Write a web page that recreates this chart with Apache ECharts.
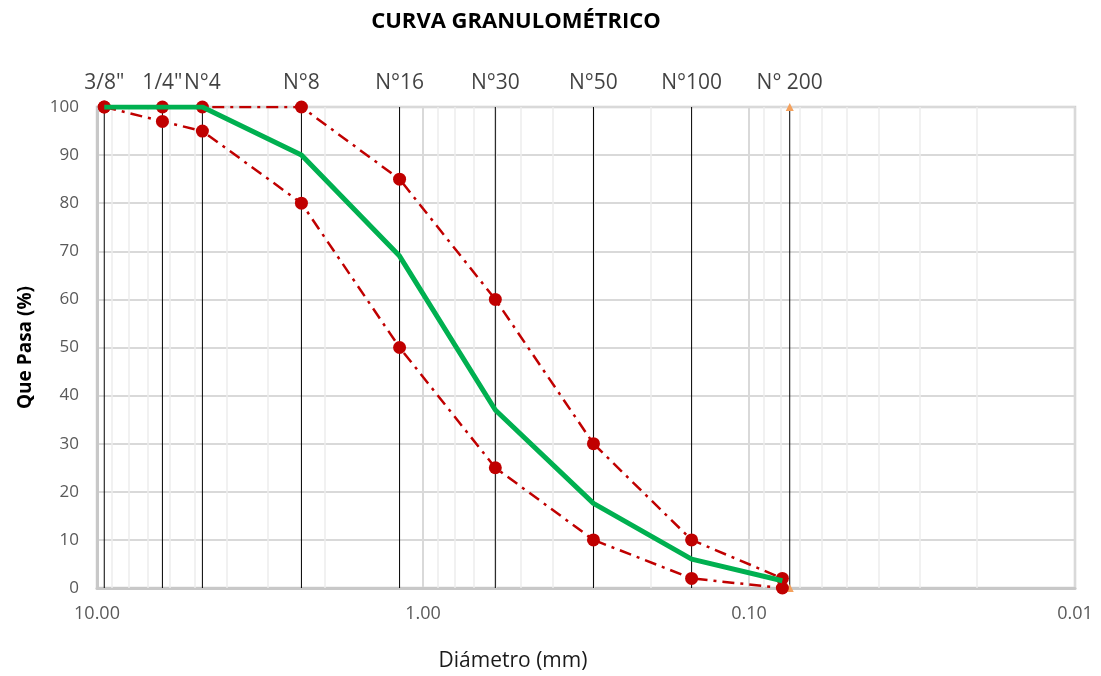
<!DOCTYPE html>
<html><head><meta charset="utf-8">
<script src="https://cdn.jsdelivr.net/npm/echarts@6/dist/echarts.min.js"></script>
<style>html,body{margin:0;padding:0;background:#fff}#c{width:1101px;height:676px}</style>
</head><body><div id="c"></div>
<script>
// Sieve (tamiz) names and openings, mm
const sieveNames = ['3/8"', '1/4"', 'N°4', 'N°8', 'N°16', 'N°30', 'N°50', 'N°100', 'N° 200'];
const sieveSizes = [9.5, 6.3, 4.75, 2.36, 1.18, 0.6, 0.3, 0.15, 0.075];
// Diameters at which the curves are plotted, mm
const curveSizes = [9.5, 6.3, 4.75, 2.36, 1.18, 0.6, 0.3, 0.15, 0.079];
// % passing
const pasaMuestra    = [100, 100, 100, 90, 69, 37, 17.6, 6, 1.5];
const limiteSuperior = [100, 100, 100, 100, 85, 60, 30, 10, 2];
const limiteInferior = [100, 97, 95, 80, 50, 25, 10, 2, 0];
const yTicks = [0, 10, 20, 30, 40, 50, 60, 70, 80, 90, 100];
const xMin = 0.01, xMax = 10;

const FONT = 'Open Sans';
const pairs = (xs, ys) => xs.map((x, i) => [x, ys[i]]);

// minor log gridlines (2..9 of each decade)
const minorLines = [];
[0.01, 0.1, 1].forEach(d => { for (let k = 2; k <= 9; k++) minorLines.push({ xAxis: +(d * k).toPrecision(3) }); });

const series = [];
// minor grid
series.push({
  type: 'line', data: [], silent: true, z: 0,
  markLine: { silent: true, symbol: 'none', label: { show: false }, animation: false,
    lineStyle: { color: '#ececec', width: 1.5, type: 'solid' }, data: minorLines }
});
// sieve vertical lines
sieveNames.forEach((n, i) => {
  const last = i === sieveNames.length - 1;
  series.push({
    type: 'line', name: n, data: [[sieveSizes[i], 0], [sieveSizes[i], yTicks[yTicks.length - 1]]],
    lineStyle: { color: '#000', width: 1 },
    showSymbol: last, symbol: 'triangle', symbolSize: 8,
    itemStyle: { color: '#f4a15d' }, z: 6, animation: false
  });
});
// sieve labels
series.push({
  type: 'scatter', symbolSize: 0, z: 7, animation: false,
  data: sieveNames.map((n, i) => ({ value: [sieveSizes[i], 100], name: n })),
  label: { show: true, position: 'top', distance: 13, formatter: p => p.name,
    fontFamily: FONT, fontSize: 21, color: '#111' }
});
const redDash = [12, 6, 3, 6];
series.push({
  type: 'line', name: 'Límite superior', data: pairs(curveSizes, limiteSuperior),
  symbol: 'circle', symbolSize: 13, itemStyle: { color: '#c00000' },
  lineStyle: { color: '#c00000', width: 2.5, type: redDash }, z: 8, animation: false
});
series.push({
  type: 'line', name: 'Límite inferior', data: pairs(curveSizes, limiteInferior),
  symbol: 'circle', symbolSize: 13, itemStyle: { color: '#c00000' },
  lineStyle: { color: '#c00000', width: 2.5, type: redDash }, z: 8, animation: false
});
series.push({
  type: 'line', name: 'Muestra', data: pairs(curveSizes, pasaMuestra),
  showSymbol: false, lineStyle: { color: '#00b050', width: 5 }, z: 9, animation: false
});

const chart = echarts.init(document.getElementById('c'), null, { renderer: 'canvas' });
chart.setOption({
  backgroundColor: '#fff',
  animation: false,
  title: [
    { text: 'CURVA GRANULOMÉTRICO', left: 511, top: 6, textAlign: 'center',
      textStyle: { fontFamily: FONT, fontWeight: 'bold', fontSize: 22, color: '#000' } },
    { text: 'Diámetro (mm)', left: 508, top: 646, textAlign: 'center',
      textStyle: { fontFamily: FONT, fontWeight: 'normal', fontSize: 21, color: '#1a1a1a' } }
  ],
  grid: { left: 97, right: 26, top: 107, bottom: 88, show: true, borderColor: '#d0d0d0', borderWidth: 2.5 },
  xAxis: {
    type: 'log', logBase: 10, min: xMin, max: xMax, inverse: true,
    axisLine: { show: true, lineStyle: { color: '#c8c8c8', width: 3 } },
    axisTick: { show: false },
    axisLabel: { margin: 17, fontFamily: FONT, fontSize: 18, color: '#595959',
      formatter: v => Number(v).toFixed(2) },
    splitLine: { show: true, lineStyle: { color: '#d9d9d9', width: 2 } }
  },
  yAxis: {
    type: 'value', min: 0, max: 100, interval: 10,
    name: 'Que Pasa (%)', nameLocation: 'middle', nameGap: 62,
    nameTextStyle: { fontFamily: FONT, fontWeight: 'bold', fontSize: 19, color: '#000' },
    axisLine: { show: true, lineStyle: { color: '#c8c8c8', width: 3 } },
    axisTick: { show: false },
    axisLabel: { margin: 18, fontFamily: FONT, fontSize: 17, color: '#595959' },
    splitLine: { show: true, lineStyle: { color: '#d9d9d9', width: 2 } }
  },
  series
});
</script></body></html>
